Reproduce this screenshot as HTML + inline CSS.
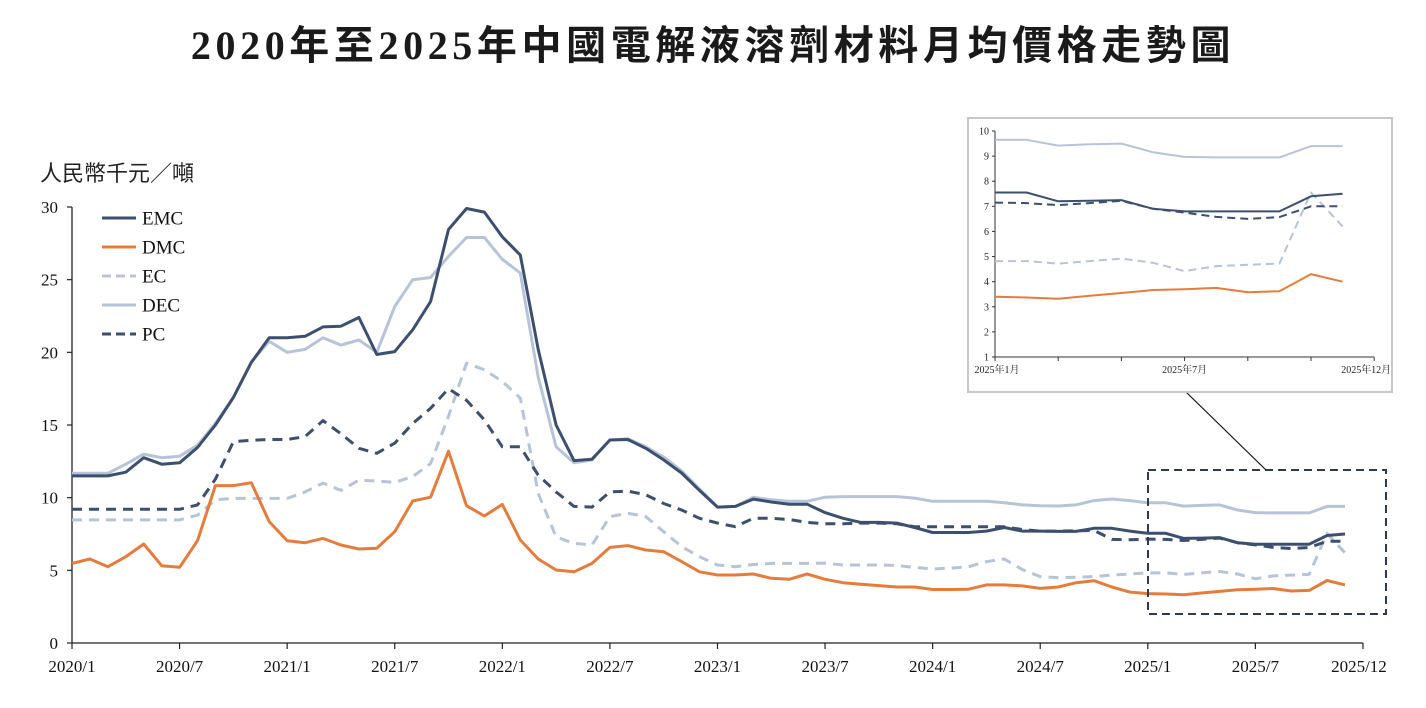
<!DOCTYPE html>
<html><head><meta charset="utf-8">
<style>
html,body{margin:0;padding:0;background:#fff;}
svg{display:block;}
.serif{font-family:"Liberation Serif","Noto Serif CJK SC",serif;}
.sans{font-family:"Liberation Sans","Noto Sans CJK TC",sans-serif;}
</style></head>
<body>
<svg id="chart" width="1426" height="708" viewBox="0 0 1426 708">
  <text x="713" y="59" text-anchor="middle" font-size="40" font-weight="bold" fill="#1a1a1a" font-family="Liberation Serif, Noto Sans CJK TC, sans-serif" letter-spacing="4.6">2020年至2025年中國電解液溶劑材料月均價格走勢圖</text>
  <text x="40" y="181" font-size="22" fill="#222" font-family="Liberation Sans, Noto Sans CJK TC, sans-serif">人民幣千元／噸</text>
  <g id="main"></g>
  <g id="legend"></g>
  <rect x="1148" y="470" width="238" height="144" fill="none" stroke="#2e3a55" stroke-width="2" stroke-dasharray="8,5"/>
  <line x1="1186" y1="392" x2="1266" y2="470" stroke="#111" stroke-width="1.2"/>
  <rect x="968" y="118" width="424" height="274" fill="#fff" stroke="#c8c8c8" stroke-width="2"/>
  <g id="inset"></g>
</svg>
<script>
const seriesNames = ["EMC","DMC","EC","DEC","PC"];
const emc = [11.5,11.5,11.5,11.75,12.75,12.3,12.4,13.45,15.0,16.9,19.3,21.0,21.0,21.1,21.75,21.8,22.4,19.85,20.05,21.55,23.5,28.45,29.9,29.65,27.95,26.7,20.2,15.0,12.55,12.65,13.97,14.0,13.4,12.6,11.7,10.5,9.35,9.4,9.9,9.7,9.55,9.55,8.97,8.58,8.3,8.3,8.25,7.95,7.6,7.6,7.6,7.7,7.95,7.7,7.7,7.68,7.68,7.89,7.89,7.7,7.55,7.55,7.2,7.22,7.25,6.9,6.8,6.8,6.8,6.8,7.4,7.5];
const dmc = [5.48,5.78,5.25,5.94,6.81,5.32,5.21,7.04,10.83,10.83,11.03,8.35,7.04,6.9,7.2,6.74,6.47,6.52,7.66,9.77,10.03,13.2,9.45,8.74,9.54,7.09,5.78,5.02,4.9,5.48,6.58,6.7,6.4,6.28,5.6,4.9,4.68,4.68,4.75,4.45,4.38,4.75,4.38,4.15,4.04,3.95,3.85,3.85,3.68,3.68,3.7,4.0,4.0,3.93,3.76,3.85,4.15,4.29,3.85,3.5,3.4,3.37,3.32,3.44,3.55,3.67,3.7,3.75,3.58,3.62,4.3,4.0];
const ec = [8.47,8.47,8.47,8.47,8.47,8.47,8.47,8.8,9.85,9.95,9.95,9.95,9.95,10.4,11.0,10.5,11.2,11.15,11.05,11.45,12.35,15.6,19.25,18.8,18.0,16.85,10.3,7.3,6.85,6.75,8.7,8.93,8.7,7.66,6.63,5.94,5.37,5.25,5.4,5.48,5.48,5.48,5.5,5.37,5.37,5.37,5.33,5.2,5.1,5.15,5.25,5.6,5.78,5.05,4.57,4.5,4.52,4.57,4.68,4.75,4.82,4.82,4.72,4.82,4.92,4.75,4.42,4.62,4.67,4.72,7.55,6.2];
const dec = [11.68,11.68,11.68,12.3,13.0,12.75,12.85,13.6,15.1,16.9,19.35,20.75,20.0,20.2,21.0,20.5,20.85,20.0,23.15,25.0,25.15,26.6,27.9,27.9,26.4,25.45,18.3,13.5,12.4,12.6,13.97,14.05,13.5,12.8,11.85,10.6,9.35,9.4,10.03,9.85,9.75,9.75,10.03,10.07,10.07,10.07,10.07,9.97,9.75,9.75,9.75,9.75,9.65,9.5,9.45,9.43,9.5,9.8,9.91,9.8,9.65,9.65,9.42,9.47,9.5,9.15,8.97,8.95,8.95,8.95,9.4,9.4];
const pc = [9.2,9.2,9.2,9.2,9.2,9.2,9.2,9.5,11.27,13.85,13.95,14.0,14.0,14.2,15.3,14.4,13.4,13.05,13.75,15.1,16.15,17.5,16.7,15.35,13.5,13.5,11.55,10.4,9.4,9.35,10.4,10.45,10.2,9.6,9.15,8.58,8.25,8.0,8.58,8.58,8.5,8.3,8.2,8.2,8.25,8.25,8.2,8.0,8.0,8.0,8.0,8.0,8.0,7.8,7.7,7.7,7.72,7.75,7.13,7.1,7.15,7.13,7.05,7.13,7.22,6.9,6.75,6.58,6.5,6.57,7.0,7.0];
const xTickMonths = [0,6,12,18,24,30,36,42,48,54,60,66,72];
const xTickLabels = ["2020/1","2020/7","2021/1","2021/7","2022/1","2022/7","2023/1","2023/7","2024/1","2024/7","2025/1","2025/7","2025/12"];
const yTicks = [0,5,10,15,20,25,30];
const insetStart = 60;
const insetYTicks = [1,2,3,4,5,6,7,8,9,10];
const insetXTickMonths = [0,2,4,6,8,10,12];
const insetXLabels = {0:"2025年1月",6:"2025年7月",12:"2025年12月"};

const NS = "http://www.w3.org/2000/svg";
const main = document.getElementById('main');
const inset = document.getElementById('inset');
const legend = document.getElementById('legend');
function mk(tag, attrs, parent){const e=document.createElementNS(NS,tag);for(const k in attrs)e.setAttribute(k,attrs[k]);parent.appendChild(e);return e;}

const X0=72, Y0=643, Ytop=207;
const xScale = m => X0 + m*17.93;
const yScale = v => Y0 - (v/30)*(Y0-Ytop);

const styles = {
  EMC:{data:emc,color:"#3d4f6e",dash:null},
  DMC:{data:dmc,color:"#e67c3c",dash:null},
  EC:{data:ec,color:"#b7c4d8",dash:"10,7"},
  DEC:{data:dec,color:"#b7c4d8",dash:null},
  PC:{data:pc,color:"#3d4f6e",dash:"10,7"}
};
const drawOrder = ["EC","DMC","PC","DEC","EMC"];

let ax = mk('line',{x1:X0,y1:Ytop,x2:X0,y2:Y0,stroke:"#222","stroke-width":1.3},main);


let bx = mk('line',{x1:X0,y1:Y0,x2:xScale(72),y2:Y0,stroke:"#222","stroke-width":1.3},main);


yTicks.forEach(v=>{
  const y=yScale(v);
  const t=mk('line',{x1:X0-5,y1:y,x2:X0,y2:y,stroke:"#222","stroke-width":1.2},main);
  
  
  const l=mk('text',{x:X0-14,y:y+6,"text-anchor":"end","font-size":17,class:"serif",fill:"#111"},main);
  
  
  l.textContent=v;
});
xTickMonths.forEach((m,i)=>{
  const x=xScale(m);
  const t=mk('line',{x1:x,y1:Y0,x2:x,y2:Y0+6,stroke:"#222","stroke-width":1.2},main);
  
  
  const l=mk('text',{x:i===xTickLabels.length-1?x-4:x,y:Y0+29,"text-anchor":"middle","font-size":17,class:"serif",fill:"#111"},main);
  
  
  l.textContent=xTickLabels[i];
});
drawOrder.forEach(n=>{
  const s=styles[n];
  const pts=s.data.map((v,i)=>xScale(i).toFixed(1)+","+yScale(v).toFixed(1)).join(" ");
  const p=mk('polyline',{points:pts,fill:"none",stroke:s.color,"stroke-width":3,"stroke-linejoin":"round"},main);
  if(s.dash)p.setAttribute('stroke-dasharray',s.dash);
  
  
});
seriesNames.forEach((n,i)=>{
  const s=styles[n]; const y=218+i*29;
  const l=mk('line',{x1:102,y1:y,x2:136,y2:y,stroke:s.color,"stroke-width":3},legend);
  if(s.dash)l.setAttribute('stroke-dasharray',"9,5");
  
  
  const t=mk('text',{x:142,y:y+6.5,"font-size":19,class:"serif",fill:"#111"},legend);
  
  
  t.textContent=n;
});
const IX0=995, IY0=357, IYtop=131;
const ixScale = m => IX0 + m*31.6;
const iyScale = v => IY0 - (v-1)/9*(IY0-IYtop);
let iax=mk('line',{x1:IX0,y1:IYtop,x2:IX0,y2:IY0,stroke:"#333","stroke-width":1},inset);


let ibx=mk('line',{x1:IX0,y1:IY0,x2:ixScale(12),y2:IY0,stroke:"#333","stroke-width":1},inset);


insetYTicks.forEach(v=>{
  const y=iyScale(v);
  const t=mk('line',{x1:IX0-3,y1:y,x2:IX0,y2:y,stroke:"#333","stroke-width":1},inset);
  
  
  const l=mk('text',{x:IX0-6,y:y+3.5,"text-anchor":"end","font-size":10,class:"serif",fill:"#222"},inset);
  
  
  l.textContent=v;
});
insetXTickMonths.forEach(m=>{
  const x=ixScale(m);
  const t=mk('line',{x1:x,y1:IY0,x2:x,y2:IY0+4,stroke:"#333","stroke-width":1},inset);
  
  
  if(insetXLabels[m]){
    const l=mk('text',{x:m===12?x-8:(m===0?x+2:x),y:IY0+16,"text-anchor":"middle","font-size":10,fill:"#222","font-family":"Liberation Serif, Noto Serif CJK SC, serif"},inset);
    
    
    l.textContent=insetXLabels[m];
  }
});
drawOrder.forEach(n=>{
  const s=styles[n];
  const sub=s.data.slice(insetStart);
  const pts=sub.map((v,i)=>ixScale(i).toFixed(1)+","+iyScale(v).toFixed(1)).join(" ");
  const p=mk('polyline',{points:pts,fill:"none",stroke:s.color,"stroke-width":2,"stroke-linejoin":"round"},inset);
  if(s.dash)p.setAttribute('stroke-dasharray',"8,5");
  
  
});
</script>
</body></html>
